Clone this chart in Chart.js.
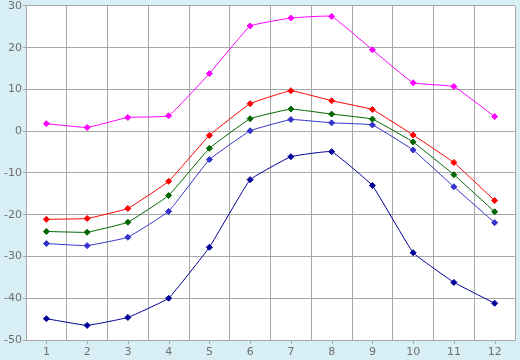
<!DOCTYPE html>
<html>
<head>
<meta charset="utf-8">
<script src="https://cdn.jsdelivr.net/npm/chart.js@4"></script>
<style>
  html, body { margin: 0; padding: 0; background: #d9eff6; }
  #wrap { width: 520px; height: 360px; }
</style>
</head>
<body>
<div id="wrap"><canvas id="grafico"></canvas></div>
<script>
// --- datos ---
const meses = ['1', '2', '3', '4', '5', '6', '7', '8', '9', '10', '11', '12'];
const serieMagenta = [1.8, 0.9, 3.3, 3.7, 13.8, 25.2, 27.1, 27.5, 19.5, 11.6, 10.7, 3.5];
const serieRoja = [-21.1, -20.9, -18.5, -12.0, -1.0, 6.6, 9.7, 7.3, 5.2, -0.9, -7.5, -16.6];
const serieVerde = [-24.0, -24.2, -21.8, -15.4, -4.1, 3.0, 5.3, 4.1, 2.9, -2.6, -10.4, -19.3];
const serieAzul = [-26.9, -27.4, -25.4, -19.2, -6.8, 0.1, 2.8, 2.0, 1.5, -4.5, -13.3, -21.9];
const serieMarino = [-44.9, -46.5, -44.6, -40.0, -27.8, -11.6, -6.1, -4.9, -13.0, -29.1, -36.2, -41.2];
const yMin = -50, yMax = 30, yPaso = 10;

const GRIS = '#a8a8a8';
const TEXTO = '#6e6e6e';

function serie(datos, color) {
    return {
        data: datos,
        borderColor: color,
        backgroundColor: color,
        borderWidth: 1,
        pointStyle: 'rectRot',
        pointRadius: 3,
        pointHoverRadius: 3,
        tension: 0.08,
        fill: false
    };
}

// fondo blanco del área + marcas del eje x en el centro de cada categoría
const extras = {
    id: 'extras',
    beforeDraw(chart) {
        const { ctx, chartArea: a } = chart;
        ctx.save();
        ctx.fillStyle = '#ffffff';
        ctx.fillRect(a.left, a.top, a.right - a.left, a.bottom - a.top);
        ctx.restore();
    },
    afterDraw(chart) {
        const { ctx, chartArea: a, scales } = chart;
        ctx.save();
        ctx.strokeStyle = GRIS;
        ctx.lineWidth = 1;
        ctx.beginPath();
        meses.forEach((m, i) => {
            const x = Math.round(scales.x.getPixelForValue(i)) + 0.5;
            ctx.moveTo(x, a.bottom);
            ctx.lineTo(x, a.bottom + 4);
        });
        ctx.stroke();
        ctx.restore();
    }
};

new Chart(document.getElementById('grafico'), {
    type: 'line',
    data: {
        labels: meses,
        datasets: [
            serie(serieMagenta, '#ff00ff'),
            serie(serieRoja, '#ff0000'),
            serie(serieVerde, '#006600'),
            serie(serieAzul, '#3333cc'),
            serie(serieMarino, '#000099')
        ]
    },
    options: {
        responsive: true, maintainAspectRatio: false,
        animation: false,
        layout: { padding: { top: 0, right: 5, left: 0, bottom: 0 } },
        plugins: { legend: { display: false }, tooltip: { enabled: false } },
        scales: {
            x: {
                offset: true,
                grid: { offset: true, color: GRIS, drawTicks: false },
                border: { color: GRIS },
                ticks: { color: TEXTO, padding: 6, font: { family: 'DejaVu Sans', size: 11 } },
                afterFit(s) { s.height = 20; }
            },
            y: {
                min: yMin, max: yMax,
                grid: { color: GRIS, tickLength: 3 },
                border: { color: GRIS },
                ticks: { stepSize: yPaso, color: TEXTO, padding: 1, font: { family: 'DejaVu Sans', size: 11, lineHeight: 0.9 } },
                afterFit(s) { s.width = 26; }
            }
        }
    },
    plugins: [extras]
});
</script>
</body>
</html>
